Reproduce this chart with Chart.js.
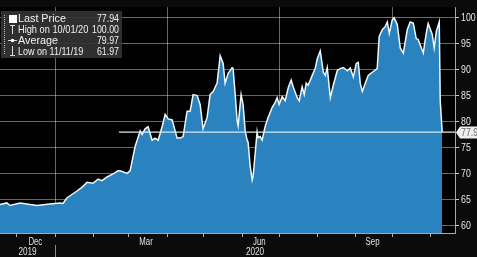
<!DOCTYPE html>
<html>
<head>
<meta charset="utf-8">
<script src="https://cdn.jsdelivr.net/npm/chart.js@4"></script>
<style>
  html, body { margin: 0; padding: 0; background: #0b0b0b; }
  #wrap { position: relative; width: 477px; height: 257px; }
</style>
</head>
<body>
<div id="wrap"><canvas id="c" width="477" height="257"></canvas></div>
<script>
// Day numbers count from 1 Nov 2019 (day 0).
const days = [16.3, 21.9, 24.4, 32.5, 40.7, 46.4, 56.9, 65.1, 67.5, 70.8, 78.9, 83.8, 87.0, 91.9, 96.0,
  99.2, 103.3, 108.2, 112.2, 113.9, 119.6, 122.0, 126.1, 130.2, 131.8, 134.2, 136.6, 139.9, 142.3,
  144.8, 148.0, 150.5, 152.9, 156.2, 157.0, 160.2, 162.7, 165.1, 168.3, 170.8, 173.2, 176.5, 178.9,
  181.3, 184.6, 187.0, 189.5, 192.7, 195.2, 197.6, 199.2, 201.7, 204.9, 205.7, 207.3, 209.0, 209.8,
  212.2, 213.8, 215.5, 217.1, 217.9, 219.5, 221.2, 222.0, 225.2, 226.0, 227.7, 229.3, 231.7, 234.2,
  237.4, 239.9, 241.5, 243.1, 245.6, 248.0, 250.5, 252.9, 254.5, 257.8, 259.4, 261.8, 263.5, 265.1,
  266.7, 270.0, 272.4, 274.1, 276.5, 279.0, 280.6, 282.2, 284.7, 287.1, 290.4, 292.8, 295.2, 298.5,
  300.9, 303.4, 305.8, 307.4, 309.0, 310.7, 313.1, 315.5, 318.8, 322.8, 324.4, 326.9, 329.3, 331.0,
  332.6, 335.0, 336.6, 339.1, 341.5, 344.0, 347.2, 349.6, 352.1, 354.5, 356.1, 360.2, 362.6, 364.2,
  367.5, 369.1, 370.8, 373.2, 374.0, 375.6];
const prices = [64.0, 64.3, 63.8, 64.3, 64.0, 63.8, 64.1, 64.3, 64.2, 65.3, 66.6, 67.5, 68.3, 68.1, 68.9,
  68.6, 69.3, 69.9, 70.5, 70.5, 70.0, 70.5, 75.2, 78.2, 77.5, 78.6, 79.0, 76.4, 76.8,
  76.4, 79.0, 81.4, 80.5, 80.3, 79.6, 76.8, 76.8, 77.1, 82.0, 82.0, 85.2, 85.0, 83.3,
  78.6, 80.8, 85.2, 85.8, 87.4, 92.7, 91.2, 87.4, 89.3, 90.4, 90.2, 85.5, 80.1, 79.2,
  85.2, 83.3, 78.2, 76.4, 76.0, 71.5, 68.7, 69.5, 78.0, 76.9, 77.1, 76.4, 79.0, 80.8,
  82.7, 83.7, 84.6, 83.3, 84.8, 84.0, 86.5, 88.0, 86.7, 84.6, 84.0, 86.7, 85.2, 87.4,
  87.0, 88.9, 90.2, 92.1, 93.6, 89.5, 88.9, 90.4, 84.6, 87.0, 89.9, 90.2, 90.4, 89.8,
  90.3, 88.6, 91.2, 91.4, 87.4, 85.8, 87.4, 88.9, 89.5, 90.2, 96.4, 97.7, 98.3, 99.2,
  97.0, 99.6, 100.0, 98.7, 94.2, 93.2, 97.7, 99.2, 99.0, 96.0, 95.8, 93.2, 97.0, 98.9,
  96.8, 94.2, 97.4, 99.2, 84.0, 77.94];

const lastPrice = 77.94;
const lastLineDays = [113, 386];

const monthStarts = [30, 61, 92, 121, 152, 182, 213, 243, 274, 305, 335, 366];
const quarterStarts = [61, 152, 243, 335];
const monthLabelDays = [45, 135, 227, 319];
const monthLabels = ["Dec", "Mar", "Jun", "Sep"];
const yearBreaks = [61];           // 1 Jan 2020
const yearLabels = ["2019", "2020"];

const yTicks = [60, 62.5, 65, 67.5, 70, 72.5, 75, 77.5, 80, 82.5, 85, 87.5, 90, 92.5, 95, 97.5, 100];
const yLabelTicks = [60, 65, 70, 75, 80, 85, 90, 95, 100];

const legendLabels = ["Last Price", "High on 10/01/20", "Average", "Low on 11/11/19"];
const legendValues = ["77.94", "100.00", "79.97", "61.97"];

const X_MIN = 16.3, X_MAX = 386;
const FAM = "'Liberation Sans', Arial, sans-serif";
const GRID = "rgba(230,230,230,0.45)";

// text squeezed horizontally by sx (the terminal font is narrow)
function text(ctx, t, x, y, align, sx) {
  ctx.save();
  ctx.translate(x, y);
  ctx.scale(sx, 1);
  ctx.textAlign = align;
  ctx.fillText(t, 0, 0);
  ctx.restore();
}

const chrome = {
  id: "chrome",
  beforeDraw(c) {
    const a = c.chartArea, ctx = c.ctx;
    ctx.save();
    ctx.fillStyle = "#000";
    ctx.fillRect(a.left, a.top, a.right - a.left, a.bottom - a.top);
    ctx.restore();
  },
  afterDraw(c) {
    const a = c.chartArea, ctx = c.ctx, x = c.scales.x, y = c.scales.y;
    ctx.save();
    // axis lines
    ctx.strokeStyle = "#a8a8a8";
    ctx.lineWidth = 1;
    ctx.beginPath();
    ctx.moveTo(a.left, Math.floor(a.bottom) + 0.5);
    ctx.lineTo(a.right + 1, Math.floor(a.bottom) + 0.5);
    ctx.moveTo(Math.floor(a.right) + 0.5, a.top);
    ctx.lineTo(Math.floor(a.right) + 0.5, a.bottom + 1);
    ctx.stroke();

    // y labels
    ctx.fillStyle = "#e6e6e6";
    ctx.font = "11px " + FAM;
    ctx.textBaseline = "middle";
    yLabelTicks.forEach(v => text(ctx, String(v), a.right + 6, y.getPixelForValue(v) + 0.5, "left", 0.8));

    // month + year labels
    ctx.fillStyle = "#e2e2e2";
    ctx.font = "10px " + FAM;
    monthLabelDays.forEach((d, i) => text(ctx, monthLabels[i], x.getPixelForValue(d), a.bottom + 9, "center", 0.78));
    const edges = [X_MIN, ...yearBreaks, X_MAX];
    yearLabels.forEach((t, i) => {
      const l = x.getPixelForValue(edges[i]), r = x.getPixelForValue(edges[i + 1]);
      text(ctx, t, (l + r) / 2, a.bottom + 19, "center", 0.82);
    });
    ctx.fillStyle = "#8a8a8a";
    yearBreaks.forEach(d => {
      ctx.fillRect(Math.round(x.getPixelForValue(d)), a.bottom + 12, 1, 12);
    });

    // last price tag on the right axis
    const ly = Math.round(y.getPixelForValue(lastPrice));
    ctx.fillStyle = "#eeeeee";
    ctx.beginPath();
    ctx.moveTo(a.right + 1, ly + 0.5);
    ctx.lineTo(a.right + 5, ly - 5.5);
    ctx.lineTo(c.width, ly - 5.5);
    ctx.lineTo(c.width, ly + 6.5);
    ctx.lineTo(a.right + 5, ly + 6.5);
    ctx.closePath();
    ctx.fill();
    ctx.fillStyle = "#6a6a6a";
    ctx.font = "11px " + FAM;
    text(ctx, String(lastPrice), a.right + 6, ly + 1, "left", 0.8);

    // legend box
    ctx.fillStyle = "rgba(52,52,52,0.9)";
    ctx.fillRect(1, 11, 121, 47);
    const rows = [19, 29.5, 40.5, 51.5];
    const squeeze = [0.98, 0.84, 0.98, 0.82];
    ctx.fillStyle = "#f0f0f0";
    ctx.font = "11px " + FAM;
    legendLabels.forEach((t, i) => {
      text(ctx, t, 18, rows[i], "left", squeeze[i]);
      text(ctx, legendValues[i], 119, rows[i], "right", 0.8);
    });
    // legend markers
    ctx.strokeStyle = "#bdbdbd";
    ctx.setLineDash([1, 1]);
    ctx.beginPath(); ctx.moveTo(4.5, 15); ctx.lineTo(4.5, 55); ctx.stroke();
    ctx.setLineDash([]);
    ctx.fillStyle = "#ffffff";
    ctx.fillRect(9, 15, 8, 8);
    ctx.strokeStyle = "#dcdcdc";
    ctx.beginPath();
    ctx.moveTo(10, 25.5); ctx.lineTo(15, 25.5); ctx.moveTo(12.5, 25.5); ctx.lineTo(12.5, 34);
    ctx.moveTo(8, 40.5); ctx.lineTo(17, 40.5);
    ctx.moveTo(12.5, 46); ctx.lineTo(12.5, 55.5); ctx.moveTo(10, 55.5); ctx.lineTo(15, 55.5);
    ctx.stroke();
    ctx.beginPath(); ctx.arc(12.5, 40.5, 1.8, 0, Math.PI * 2); ctx.fill();
    ctx.restore();
  },
};

const priceData = days.map((d, i) => ({ x: d, y: prices[i] }));
const lastLine = lastLineDays.map(d => ({ x: d, y: lastPrice }));

new Chart(document.getElementById("c"), {
  type: "line",
  data: {
    datasets: [
      { data: lastLine, borderColor: "#dbe7ee", borderWidth: 1.2, pointRadius: 0, fill: false },
      { data: priceData, borderColor: "#eef7fc", borderWidth: 1.5, backgroundColor: "#2a83be",
        fill: "start", pointRadius: 0, tension: 0 },
    ],
  },
  options: {
    responsive: false, animation: false,
    layout: { padding: 0 },
    plugins: { legend: { display: false }, tooltip: { enabled: false } },
    scales: {
      x: {
        type: "linear", min: X_MIN, max: X_MAX, z: 1,
        afterBuildTicks: s => { s.ticks = monthStarts.map(v => ({ value: v })); },
        afterFit: s => { s.height = 24; },
        ticks: { callback: () => "", padding: 0 },
        grid: {
          drawOnChartArea: true, lineWidth: 1, tickLength: 4, tickColor: "#b5b5b5",
          color: ctx => quarterStarts.includes(ctx.tick && ctx.tick.value) ? GRID : "rgba(0,0,0,0)",
        },
        border: { display: false },
      },
      y: {
        position: "right", min: 58.5, max: 102.05, z: 1,
        afterBuildTicks: s => { s.ticks = yTicks.map(v => ({ value: v })); },
        afterFit: s => { s.width = 22; },
        ticks: { callback: () => "", padding: 0 },
        grid: {
          drawOnChartArea: true, lineWidth: 1, tickLength: 4, tickColor: "#c8c8c8",
          color: ctx => ctx.tick && ctx.tick.value % 5 === 0 ? GRID : "rgba(0,0,0,0)",
        },
        border: { display: false },
      },
    },
  },
  plugins: [chrome],
});
</script>
</body>
</html>
